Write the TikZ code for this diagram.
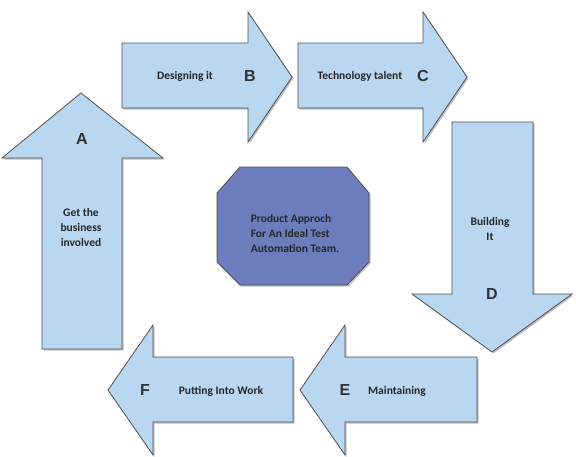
\documentclass[tikz,border=0pt]{standalone}
\usepackage{fontspec}
\setmainfont{Carlito}
\newfontfamily\letterfont{Liberation Sans}
\usepackage{tikz}
\usepackage{xcolor}
\definecolor{arrowblue}{RGB}{185,215,240}
\definecolor{octblue}{RGB}{108,125,190}
\definecolor{edgegray}{RGB}{80,80,80}
\begin{document}
\begin{tikzpicture}[x=1pt,y=-1pt]
	\tikzstyle{block} = [fill=arrowblue, draw=edgegray, line width=0.8pt, line join=miter]
	\tikzstyle{shadowfill} = [fill=black, opacity=0.25]
	\tikzstyle{txt} = [font=\bfseries\fontsize{11.5}{15}\selectfont, text=black!85, align=center, inner sep=0pt]
	\tikzstyle{letter} = [font=\letterfont\bfseries\fontsize{16}{16}\selectfont, text=black!80, inner sep=0pt]
	\useasboundingbox (0,0) rectangle (576,456);
	% A (up)
	\fill[shadowfill, xshift=1.5pt, yshift=-1.5pt] (42,349) -- (42,158) -- (2,158) -- (81,93) -- (163,158) -- (122,158) -- (122,349) -- cycle;
	\filldraw[block] (42,349) -- (42,158) -- (2,158) -- (81,93) -- (163,158) -- (122,158) -- (122,349) -- cycle;
	% B (right)
	\fill[shadowfill, xshift=1.5pt, yshift=-1.5pt] (122,43) -- (248,43) -- (248,12) -- (292,77) -- (248,142) -- (248,108) -- (122,108) -- cycle;
	\filldraw[block] (122,43) -- (248,43) -- (248,12) -- (292,77) -- (248,142) -- (248,108) -- (122,108) -- cycle;
	% C (right)
	\fill[shadowfill, xshift=1.5pt, yshift=-1.5pt] (298,43) -- (423,43) -- (423,12) -- (467,77) -- (423,142) -- (423,108) -- (298,108) -- cycle;
	\filldraw[block] (298,43) -- (423,43) -- (423,12) -- (467,77) -- (423,142) -- (423,108) -- (298,108) -- cycle;
	% D (down)
	\fill[shadowfill, xshift=1.5pt, yshift=-1.5pt] (452,122) -- (533,122) -- (533,294) -- (572,294) -- (492,352) -- (412,294) -- (452,294) -- cycle;
	\filldraw[block] (452,122) -- (533,122) -- (533,294) -- (572,294) -- (492,352) -- (412,294) -- (452,294) -- cycle;
	% E (left)
	\fill[shadowfill, xshift=1.5pt, yshift=-1.5pt] (477,357) -- (345,357) -- (345,325) -- (300,390) -- (345,455) -- (345,422) -- (477,422) -- cycle;
	\filldraw[block] (477,357) -- (345,357) -- (345,325) -- (300,390) -- (345,455) -- (345,422) -- (477,422) -- cycle;
	% F (left)
	\fill[shadowfill, xshift=1.5pt, yshift=-1.5pt] (293,357) -- (153,357) -- (153,325) -- (108,390) -- (153,455) -- (153,422) -- (293,422) -- cycle;
	\filldraw[block] (293,357) -- (153,357) -- (153,325) -- (108,390) -- (153,455) -- (153,422) -- (293,422) -- cycle;
	% centre octagon
	\fill[shadowfill, xshift=1.5pt, yshift=-1.5pt] (240,167) -- (347,167) -- (369,193) -- (369,262) -- (347,285) -- (240,285) -- (217,262) -- (217,193) -- cycle;
	\filldraw[fill=octblue, draw=edgegray, line width=0.8pt] (240,167) -- (347,167) -- (369,193) -- (369,262) -- (347,285) -- (240,285) -- (217,262) -- (217,193) -- cycle;
	% labels
	\node[letter] (la) at (82,139) {A};
	\node[txt] (ta) at (81,228) {Get the\\business\\involved};
	\node[letter] (lb) at (250,76) {B};
	\node[txt] (tb) at (185,76) {Designing it};
	\node[letter] (lc) at (423,76) {C};
	\node[txt] (tc) at (360,76) {Technology talent};
	\node[txt, align=center] (td) at (490,229) {Building\\It};
	\node[letter] (ld) at (492,294) {D};
	\node[letter] (le) at (345,390) {E};
	\node[txt] (te) at (397,391) {Maintaining};
	\node[letter] (lf) at (145,390) {F};
	\node[txt] (tf) at (221,391) {Putting Into Work};
	\node[txt, align=left] (center) at (295,234) {Product Approch\\For An Ideal Test\\Automation Team.};
\end{tikzpicture}
\end{document}
